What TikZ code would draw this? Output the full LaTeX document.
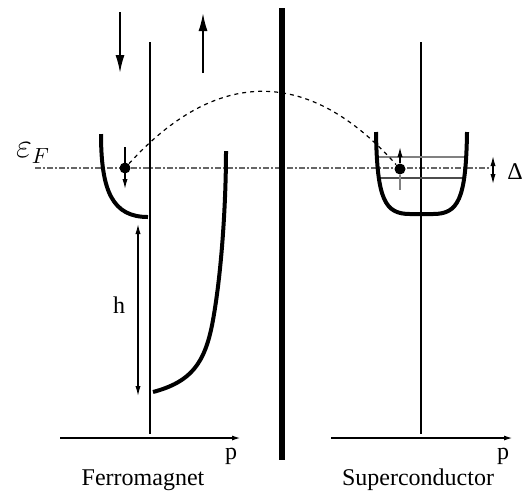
\documentclass[tikz,border=0pt]{standalone}
\usepackage{fontspec}
\setmainfont{Liberation Serif}
\usetikzlibrary{arrows.meta}
\begin{document}
\begin{tikzpicture}[x=0.5pt,y=-0.5pt,
  thinline/.style={line width=0.9pt},
  band/.style={line width=2pt},
  barrier/.style={line width=2.8pt},
  spinarrow/.style={line width=0.9pt,-{Latex[length=9pt,width=4.5pt]}},
  smallarrow/.style={line width=0.6pt,-{Latex[length=5pt,width=2.6pt]}},
  dblarrow/.style={line width=0.6pt,{Latex[length=5pt,width=2.6pt]}-{Latex[length=5pt,width=2.6pt]}},
  axis/.style={line width=0.85pt,-{Latex[length=4.5pt,width=2.5pt]}},
  fermi/.style={line width=0.6pt,gray!80!black,dash pattern=on 3pt off 1pt on 1pt off 1pt},
  hop/.style={line width=0.6pt,dash pattern=on 2pt off 2pt},
  level/.style={line width=0.6pt,gray},
  lbl/.style={font=\fontsize{12}{14}\selectfont,inner sep=0pt},
  dot/.style={circle,fill=black,inner sep=0pt,minimum size=5.5pt}
]
\useasboundingbox (0,0) rectangle (522,494);

% coordinates
\coordinate (dnT) at (120,12);  \coordinate (dnB) at (120,73);
\coordinate (upB) at (203,73);  \coordinate (upT) at (203,13);
\coordinate (fvT) at (150,42);  \coordinate (fvB) at (150,434);
\coordinate (svT) at (421,42);  \coordinate (svB) at (421,434);
\coordinate (mT) at (282,8);    \coordinate (mB) at (282,460);
\coordinate (faL) at (60,438);  \coordinate (faR) at (241,438);
\coordinate (saL) at (331,438); \coordinate (saR) at (513,438);
\coordinate (efL) at (35,168);  \coordinate (efR) at (490,168);
\coordinate (hT) at (138,224);  \coordinate (hB) at (138,396);
\coordinate (dT) at (493,156);  \coordinate (dB) at (493,184);

% Fermi level
\draw[fermi] (efL) -- (efR);

% axes and vertical lines
\draw[thinline] (fvT) -- (fvB);
\draw[thinline] (svT) -- (svB);
\draw[axis] (faL) -- (faR);
\draw[axis] (saL) -- (saR);
\draw[barrier] (mT) -- (mB);

% spin arrows
\draw[spinarrow] (dnT) -- (dnB);
\draw[spinarrow] (upB) -- (upT);

% ferromagnet bands
\draw[band] (101,134) .. controls (101,192) and (113,217) .. (148,217);
\draw[band] (153,392) .. controls (190,382) and (205,365) .. (213,320)
            .. controls (222,270) and (226,200) .. (226,151);

% superconductor band
\draw[level] (377,157) -- (466,157);
\draw[thinline,line width=0.6pt,gray!60!black] (379,178) -- (464,178);
\draw[band] (376,132) .. controls (377,200) and (385,214) .. (410,214)
            -- (433,214) .. controls (458,214) and (466,200) .. (467,132);

% electrons
\node[dot] (e1) at (125,168) {};
\node[dot] (e2) at (400,169) {};
\coordinate (e1T) at (125,147); \coordinate (e1B) at (125,189);
\coordinate (e2T) at (400,147); \coordinate (e2B) at (400,190);
\draw[smallarrow] (e1T) -- (e1B);
\draw[level] (e2) -- (e2B);
\draw[smallarrow] (e2) -- (e2T);

% tunnelling arc
\draw[hop] (e1) .. controls (217,67) and (309,67) .. (e2);

% h and Delta
\draw[dblarrow] (hT) -- (hB);
\draw[dblarrow] (dT) -- (dB);

% labels
\node[lbl] (h) at (119,305) {h};
\node[lbl] (D) at (515,172) {Δ};
\node[lbl] (p1) at (231,456) {p};
\node[lbl] (p2) at (503,456) {p};
\node[lbl] (F) at (143,480) {Ferromagnet};
\node[lbl] (S) at (418,480) {Superconductor};
\node[inner sep=0pt,font=\fontsize{16}{16}\selectfont] (ef) at (33,153) {$\varepsilon_F$};
\end{tikzpicture}
\end{document}
